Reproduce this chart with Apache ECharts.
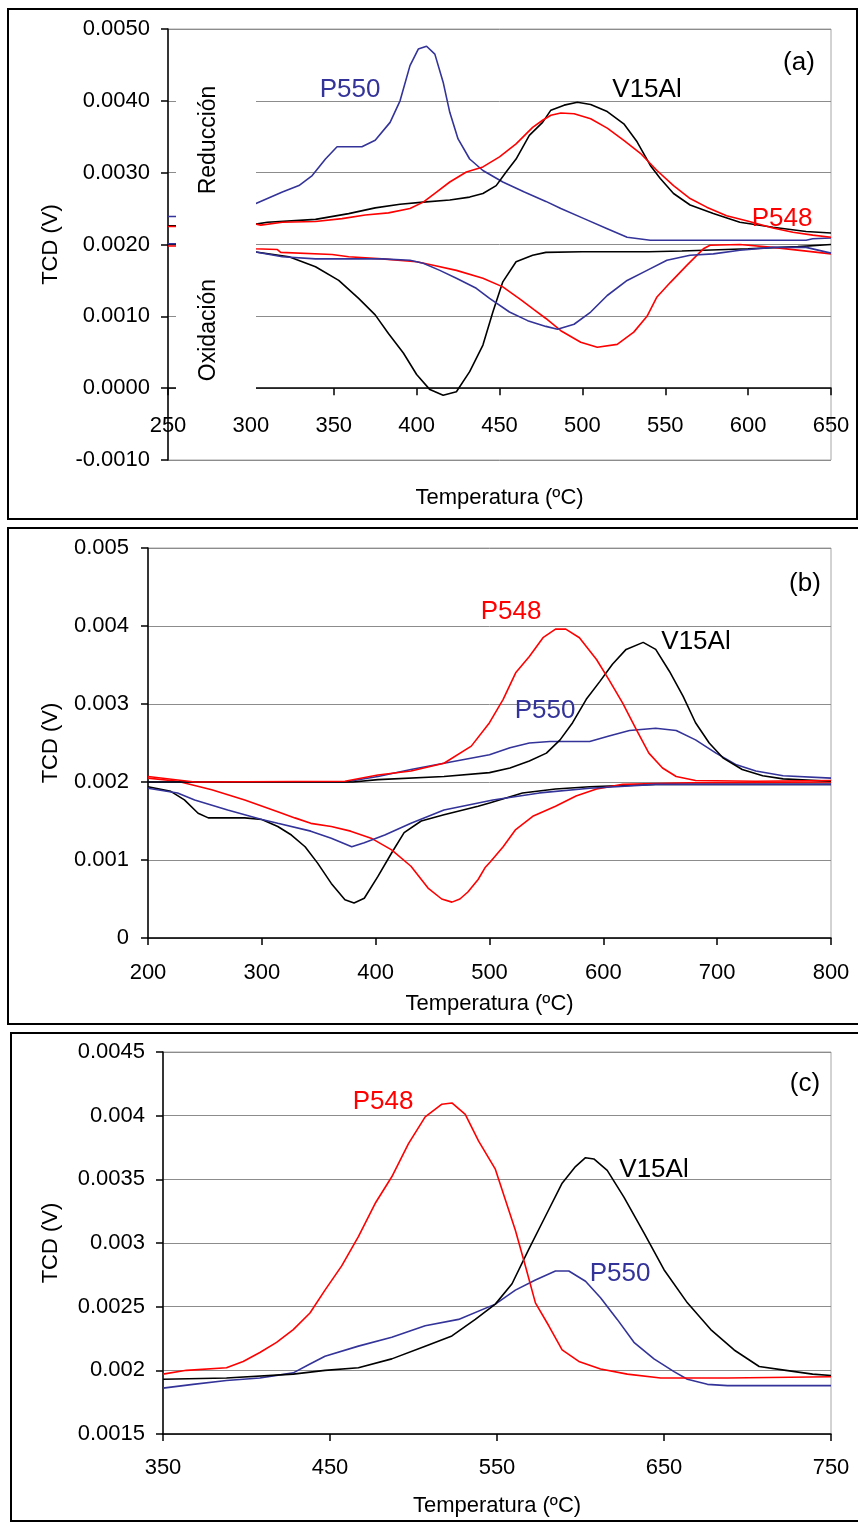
<!DOCTYPE html>
<html>
<head>
<meta charset="utf-8">
<script src="https://cdn.jsdelivr.net/npm/echarts@6/dist/echarts.min.js"></script>
<style>
  html, body { margin: 0; padding: 0; background: #fff; }
  #chart { width: 858px; height: 1523px; }
</style>
</head>
<body>
<div id="chart"></div>
<script>
// Panel (a): reduction (upper) and oxidation (lower) traces, [T (ºC), TCD (V)]
const aRedV15Al = [[250,0.00226],[255,0.00226],[302,0.00228],[310,0.00231],[339,0.00235],[359,0.00243],[375,0.00251],[390,0.00256],[404,0.00259],[420,0.00262],[432,0.00266],[440,0.00271],[448,0.00282],[454,0.00301],[460,0.00319],[468,0.00352],[476,0.00370],[481,0.00387],[489,0.00394],[497,0.00398],[505,0.00395],[515,0.00385],[525,0.00368],[533,0.00343],[541,0.00310],[547,0.00292],[555,0.00271],[565,0.00255],[579,0.00243],[595,0.00231],[615,0.00224],[635,0.00218],[650,0.00216]];
const aRedP548 = [[250,0.00225],[255,0.00225],[302,0.00229],[306,0.00227],[319,0.00231],[339,0.00232],[355,0.00236],[369,0.00241],[383,0.00244],[396,0.00250],[404,0.00259],[412,0.00273],[420,0.00287],[430,0.00301],[440,0.00308],[450,0.00322],[460,0.00340],[470,0.00363],[476,0.00373],[481,0.00380],[487,0.00383],[495,0.00382],[505,0.00375],[515,0.00362],[525,0.00345],[535,0.00327],[545,0.00303],[555,0.00282],[565,0.00264],[575,0.00252],[587,0.00240],[599,0.00233],[615,0.00223],[627,0.00217],[639,0.00213],[650,0.00210]];
const aRedP550 = [[250,0.00239],[255,0.00239],[302,0.00256],[319,0.00273],[329,0.00282],[337,0.00296],[345,0.00319],[352,0.00336],[367,0.00336],[375,0.00345],[384,0.00370],[390,0.00400],[396,0.00449],[401,0.00472],[406,0.00476],[411,0.00465],[416,0.00426],[420,0.00384],[425,0.00347],[432,0.00319],[440,0.00303],[452,0.00287],[465,0.00273],[478,0.00260],[487,0.00250],[501,0.00236],[515,0.00222],[527,0.00210],[541,0.00206],[635,0.00206],[639,0.00208],[650,0.00209]];
const aOxV15Al = [[250,0.00200],[255,0.00200],[302,0.00190],[323,0.00183],[339,0.00169],[353,0.00150],[365,0.00125],[375,0.00102],[383,0.00076],[392,0.00049],[400,0.00019],[408,-0.00002],[416,-0.00010],[424,-0.00005],[432,0.00023],[440,0.00060],[446,0.00106],[452,0.00148],[460,0.00176],[470,0.00185],[478,0.00189],[500,0.00190],[540,0.00190],[560,0.00191],[600,0.00194],[630,0.00197],[650,0.00200]];
const aOxP548 = [[250,0.00198],[255,0.00198],[302,0.00194],[316,0.00193],[318,0.00189],[349,0.00186],[359,0.00183],[379,0.00180],[400,0.00176],[410,0.00171],[424,0.00164],[440,0.00153],[452,0.00141],[463,0.00123],[471,0.00109],[478,0.00097],[487,0.00080],[499,0.00064],[509,0.00057],[521,0.00061],[531,0.00078],[539,0.00100],[545,0.00127],[553,0.00147],[563,0.00171],[573,0.00194],[577,0.00199],[595,0.00200],[615,0.00196],[650,0.00187]];
const aOxP550 = [[250,0.00201],[255,0.00201],[302,0.00190],[319,0.00183],[339,0.00180],[359,0.00180],[379,0.00180],[396,0.00178],[404,0.00174],[414,0.00164],[424,0.00153],[436,0.00139],[444,0.00125],[456,0.00106],[467,0.00094],[478,0.00086],[485,0.00082],[495,0.00089],[505,0.00106],[515,0.00129],[527,0.00150],[539,0.00164],[551,0.00178],[565,0.00185],[579,0.00187],[595,0.00192],[615,0.00196],[635,0.00196],[650,0.00188]];

// Panel (b)
const bRedV15Al = [[200,0.00200],[380,0.00200],[402,0.00203],[460,0.00207],[500,0.00212],[518,0.00218],[535,0.00227],[550,0.00237],[562,0.00254],[573,0.00276],[585,0.00306],[597,0.00329],[608,0.00351],[620,0.00370],[635,0.00379],[646,0.00370],[658,0.00342],[670,0.00310],[681,0.00276],[693,0.00250],[705,0.00231],[722,0.00216],[740,0.00208],[758,0.00204],[800,0.00201]];
const bRedP548 = [[200,0.00207],[241,0.00200],[373,0.00201],[402,0.00209],[431,0.00214],[460,0.00224],[484,0.00246],[500,0.00276],[512,0.00306],[523,0.00340],[535,0.00361],[547,0.00385],[558,0.00396],[567,0.00396],[579,0.00385],[594,0.00357],[605,0.00331],[617,0.00301],[629,0.00267],[640,0.00237],[652,0.00218],[664,0.00207],[681,0.00202],[734,0.00201],[800,0.00202]];
const bRedP550 = [[200,0.00200],[373,0.00200],[402,0.00207],[431,0.00216],[460,0.00224],[500,0.00235],[518,0.00244],[535,0.00250],[553,0.00252],[588,0.00252],[605,0.00259],[623,0.00266],[646,0.00269],[664,0.00266],[681,0.00254],[699,0.00237],[717,0.00222],[734,0.00214],[758,0.00208],[800,0.00205]];
const bOxV15Al = [[200,0.00194],[220,0.00188],[232,0.00177],[244,0.00160],[253,0.00154],[285,0.00154],[300,0.00152],[314,0.00143],[326,0.00132],[338,0.00117],[349,0.00096],[361,0.00070],[373,0.00049],[381,0.00045],[390,0.00051],[402,0.00079],[414,0.00109],[425,0.00135],[440,0.00150],[460,0.00158],[490,0.00169],[500,0.00173],[529,0.00186],[558,0.00191],[588,0.00194],[646,0.00197],[800,0.00197]];
const bOxP548 = [[200,0.00205],[226,0.00201],[256,0.00190],[285,0.00177],[314,0.00162],[329,0.00154],[343,0.00147],[361,0.00143],[378,0.00137],[396,0.00128],[414,0.00113],[431,0.00092],[446,0.00064],[458,0.00050],[467,0.00046],[474,0.00050],[481,0.00059],[490,0.00075],[496,0.00090],[501,0.00098],[512,0.00117],[523,0.00139],[538,0.00156],[558,0.00169],[576,0.00182],[594,0.00191],[617,0.00197],[676,0.00199],[800,0.00200]];
const bOxP550 = [[200,0.00192],[226,0.00186],[241,0.00177],[270,0.00164],[300,0.00152],[314,0.00147],[343,0.00137],[361,0.00128],[379,0.00117],[390,0.00122],[408,0.00132],[431,0.00147],[460,0.00164],[503,0.00177],[544,0.00186],[588,0.00192],[646,0.00197],[800,0.00197]];

// Panel (c)
const cV15Al = [[350,0.00193],[388,0.00194],[428,0.00197],[447,0.00200],[467,0.00202],[487,0.00209],[507,0.00219],[523,0.00227],[537,0.00240],[549,0.00252],[559,0.00268],[569,0.00295],[579,0.00321],[589,0.00347],[597,0.00360],[603,0.00367],[608,0.00366],[616,0.00357],[626,0.00336],[638,0.00308],[650,0.00279],[664,0.00253],[678,0.00232],[692,0.00216],[707,0.00203],[723,0.00200],[739,0.00197],[750,0.00196]];
const cP548 = [[350,0.00197],[364,0.00200],[388,0.00202],[398,0.00207],[408,0.00214],[418,0.00222],[428,0.00232],[438,0.00245],[447,0.00263],[457,0.00282],[467,0.00305],[477,0.00331],[487,0.00352],[497,0.00378],[507,0.00399],[517,0.00409],[523,0.00410],[531,0.00401],[539,0.00380],[549,0.00358],[555,0.00334],[561,0.00310],[567,0.00282],[573,0.00253],[581,0.00235],[589,0.00216],[599,0.00207],[612,0.00201],[628,0.00197],[648,0.00194],[688,0.00194],[750,0.00195]];
const cP550 = [[350,0.00186],[368,0.00189],[388,0.00192],[408,0.00194],[428,0.00198],[438,0.00205],[447,0.00211],[467,0.00219],[487,0.00226],[507,0.00235],[527,0.00240],[549,0.00252],[561,0.00263],[573,0.00271],[585,0.00278],[593,0.00278],[603,0.00270],[612,0.00257],[622,0.00240],[632,0.00222],[644,0.00209],[656,0.00199],[664,0.00193],[676,0.00189],[688,0.00188],[750,0.00188]];

const cTicks = [350, 450, 550, 650, 750];

const FONT = '"Liberation Sans", Arial, sans-serif';
const BLACK = '#000000';
const RED = '#ff0000';
const BLUE = '#333399';
const GRID_GRAY = '#8c8c8c';

const chart = echarts.init(document.getElementById('chart'), null, { renderer: 'canvas' });

function line(data, color, idx) {
  return {
    type: 'line',
    data,
    xAxisIndex: idx,
    yAxisIndex: idx,
    symbol: 'none',
    smooth: false,
    silent: true,
    lineStyle: { color, width: 1.6 },
    itemStyle: { color },
  };
}

function xAxisOf(idx, min, max, interval, margin, nameGap, extra) {
  return Object.assign({
    type: 'value',
    gridIndex: idx,
    position: 'bottom',
    min, max, interval,
    name: 'Temperatura (ºC)',
    nameLocation: 'middle',
    nameGap,
    nameTextStyle: { color: BLACK, fontSize: 22, fontFamily: FONT },
    axisLine: { onZero: false, lineStyle: { color: BLACK, width: 1.5 } },
    axisTick: { show: true, length: 7, lineStyle: { color: BLACK, width: 1.5 } },
    axisLabel: { color: BLACK, fontSize: 22, fontFamily: FONT, margin },
    splitLine: { show: false },
  }, extra || {});
}

function yAxisOf(idx, min, max, interval, margin, nameGap, formatter) {
  return {
    type: 'value',
    gridIndex: idx,
    min, max, interval,
    name: 'TCD (V)',
    nameLocation: 'middle',
    nameGap,
    nameTextStyle: { color: BLACK, fontSize: 22, fontFamily: FONT },
    axisLine: { show: true, onZero: false, lineStyle: { color: BLACK, width: 1.5 } },
    axisTick: { show: true, length: 7, lineStyle: { color: BLACK, width: 1.5 } },
    axisLabel: { color: BLACK, fontSize: 22, fontFamily: FONT, margin, formatter },
    splitLine: { show: true, lineStyle: { color: GRID_GRAY, width: 1 } },
  };
}

function label(text, x, y, color, size) {
  return {
    type: 'text', x, y, z: 70,
    style: { text, fill: color, fontSize: size, fontFamily: FONT, align: 'center', verticalAlign: 'middle' },
  };
}

function vlabel(text, x, y) {
  return {
    type: 'text', x, y, z: 70, rotation: Math.PI / 2,
    style: { text, fill: BLACK, fontSize: 23, fontFamily: FONT, align: 'center', verticalAlign: 'middle' },
  };
}

function frame(x, y, w, h) {
  return {
    type: 'rect', z: 80, silent: true,
    shape: { x, y, width: w, height: h },
    style: { fill: 'none', stroke: BLACK, lineWidth: 2 },
  };
}

const gridStyle = { show: true, borderColor: '#a6a6a6', borderWidth: 1, backgroundColor: 'transparent' };

// panel (a): the temperature axis sits on the zero line, one grid step above the bottom
const aGridHeight = 431;
const aZeroOffset = -aGridHeight / 6;

chart.setOption({
  animation: false,
  backgroundColor: '#ffffff',
  grid: [
    Object.assign({ left: 168, top: 29, width: 663, height: aGridHeight }, gridStyle),
    Object.assign({ left: 148, top: 548, width: 683, height: 390 }, gridStyle),
    Object.assign({ left: 163, top: 1052, width: 668, height: 382 }, gridStyle),
  ],
  xAxis: [
    xAxisOf(0, 250, 650, 50, 27, 99, { offset: aZeroOffset }),
    xAxisOf(1, 200, 800, 100, 24, 55),
    xAxisOf(2, 350, 750, 50, 23, 61, {
      axisTick: { show: true, length: 7, customValues: cTicks, lineStyle: { color: BLACK, width: 1.5 } },
      axisLabel: { color: BLACK, fontSize: 22, fontFamily: FONT, margin: 23, customValues: cTicks },
    }),
  ],
  yAxis: [
    yAxisOf(0, -0.001, 0.005, 0.001, 18, 106, (v) => v.toFixed(4)),
    yAxisOf(1, 0, 0.005, 0.001, 19, 86),
    yAxisOf(2, 0.0015, 0.0045, 0.0005, 18, 101),
  ],
  series: [
    line(aOxV15Al, BLACK, 0),
    line(aOxP548, RED, 0),
    line(aOxP550, BLUE, 0),
    line(aRedP550, BLUE, 0),
    line(aRedV15Al, BLACK, 0),
    line(aRedP548, RED, 0),

    line(bOxV15Al, BLACK, 1),
    line(bOxP548, RED, 1),
    line(bOxP550, BLUE, 1),
    line(bRedP550, BLUE, 1),
    line(bRedV15Al, BLACK, 1),
    line(bRedP548, RED, 1),

    line(cP550, BLUE, 2),
    line(cV15Al, BLACK, 2),
    line(cP548, RED, 2),
  ],
  graphic: [
    // blank strip in panel (a) that carries the two side captions
    { type: 'rect', z: 60, silent: true, shape: { x: 176, y: 35, width: 80, height: 361 }, style: { fill: '#ffffff' } },
    vlabel('Reducción', 209, 140),
    vlabel('Oxidación', 209, 330),

    label('(a)', 799, 63, BLACK, 26),
    label('P550', 350, 90, BLUE, 26),
    label('V15Al', 647, 90, BLACK, 26),
    label('P548', 782, 219, RED, 26),

    label('(b)', 805, 584, BLACK, 26),
    label('P548', 511, 612, RED, 26),
    label('V15Al', 696, 642, BLACK, 26),
    label('P550', 545, 711, BLUE, 26),

    label('(c)', 805, 1084, BLACK, 26),
    label('P548', 383, 1102, RED, 26),
    label('V15Al', 654, 1170, BLACK, 26),
    label('P550', 620, 1274, BLUE, 26),

    frame(8, 9, 849, 510),
    frame(8, 528, 852, 496),
    frame(11, 1033, 849, 488),
  ],
});
</script>
</body>
</html>
